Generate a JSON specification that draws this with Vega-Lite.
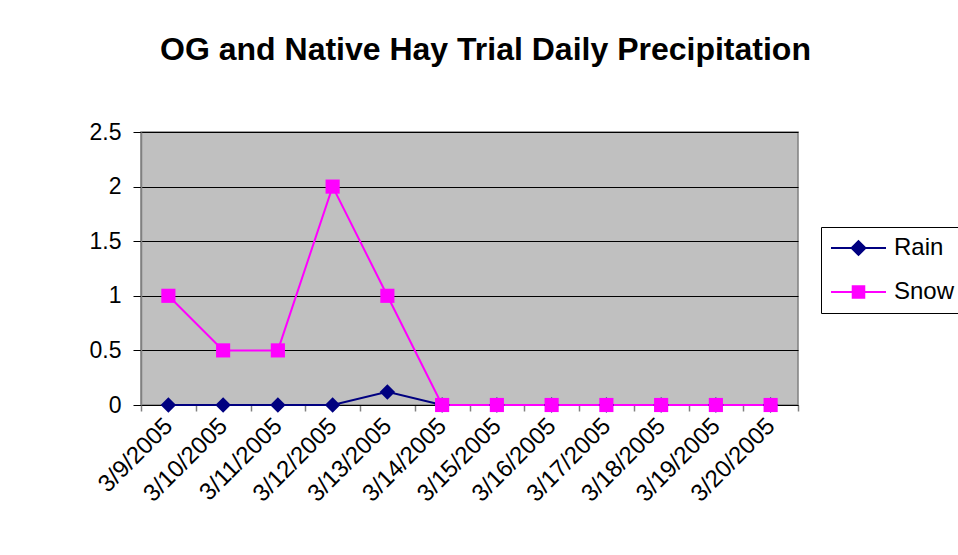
{
  "$schema": "https://vega.github.io/schema/vega-lite/v6.json",
  "width": 657,
  "height": 273,
  "autosize": {"type": "none"},
  "padding": {"left": 141, "top": 132, "right": 160, "bottom": 150},
  "background": "white",
  "title": {
    "text": "OG and Native Hay Trial Daily Precipitation",
    "font": "Liberation Sans",
    "fontSize": 32,
    "fontWeight": "bold",
    "color": "black",
    "anchor": "middle",
    "frame": "group",
    "baseline": "alphabetic",
    "offset": 29,
    "dx": 16
  },
  "config": {
    "view": {"fill": "#C0C0C0", "stroke": "#808080", "strokeWidth": 1.5},
    "font": "Liberation Sans"
  },
  "data": {
    "values": [
      {"date": "3/9/2005", "series": "Rain", "value": 0},
      {"date": "3/10/2005", "series": "Rain", "value": 0},
      {"date": "3/11/2005", "series": "Rain", "value": 0},
      {"date": "3/12/2005", "series": "Rain", "value": 0},
      {"date": "3/13/2005", "series": "Rain", "value": 0.12},
      {"date": "3/14/2005", "series": "Rain", "value": 0},
      {"date": "3/15/2005", "series": "Rain", "value": 0},
      {"date": "3/16/2005", "series": "Rain", "value": 0},
      {"date": "3/17/2005", "series": "Rain", "value": 0},
      {"date": "3/18/2005", "series": "Rain", "value": 0},
      {"date": "3/19/2005", "series": "Rain", "value": 0},
      {"date": "3/20/2005", "series": "Rain", "value": 0},
      {"date": "3/9/2005", "series": "Snow", "value": 1},
      {"date": "3/10/2005", "series": "Snow", "value": 0.5},
      {"date": "3/11/2005", "series": "Snow", "value": 0.5},
      {"date": "3/12/2005", "series": "Snow", "value": 2},
      {"date": "3/13/2005", "series": "Snow", "value": 1},
      {"date": "3/14/2005", "series": "Snow", "value": 0},
      {"date": "3/15/2005", "series": "Snow", "value": 0},
      {"date": "3/16/2005", "series": "Snow", "value": 0},
      {"date": "3/17/2005", "series": "Snow", "value": 0},
      {"date": "3/18/2005", "series": "Snow", "value": 0},
      {"date": "3/19/2005", "series": "Snow", "value": 0},
      {"date": "3/20/2005", "series": "Snow", "value": 0}
    ]
  },
  "encoding": {
    "x": {
      "field": "date",
      "type": "ordinal",
      "sort": null,
      "scale": {"type": "band", "paddingInner": 0, "paddingOuter": 0},
      "axis": {
        "title": null,
        "labelAngle": -45,
        "labelAlign": "right",
        "labelBaseline": "middle",
        "labelFont": "Liberation Sans",
        "labelFontSize": 24,
        "labelColor": "black",
        "labelPadding": 11,
        "tickBand": "extent",
        "tickSize": 6,
        "tickColor": "#808080",
        "tickWidth": 1.5,
        "domainColor": "black",
        "domainWidth": 1,
        "grid": false
      }
    },
    "y": {
      "field": "value",
      "type": "quantitative",
      "scale": {"domain": [0, 2.5], "nice": false, "zero": true},
      "axis": {
        "title": null,
        "values": [0, 0.5, 1, 1.5, 2, 2.5],
        "format": "~g",
        "grid": true,
        "gridColor": "black",
        "gridOpacity": 1,
        "gridWidth": 1,
        "tickSize": 8,
        "tickColor": "black",
        "domainColor": "#808080",
        "domainWidth": 1.5,
        "labelFont": "Liberation Sans",
        "labelFontSize": 23,
        "labelColor": "black",
        "labelPadding": 12
      }
    },
    "color": {
      "field": "series",
      "type": "nominal",
      "scale": {"domain": ["Rain", "Snow"], "range": ["#000080", "#FF00FF"]},
      "legend": {
        "title": null,
        "orient": "none",
        "legendX": 680,
        "legendY": 95,
        "strokeColor": "black",
        "fillColor": "white",
        "padding": 9,
        "labelFont": "Liberation Sans",
        "labelFontSize": 24,
        "labelColor": "black",
        "labelOffset": 7,
        "symbolSize": 3025,
        "clipHeight": 24,
        "rowPadding": 20,
        "symbolStrokeWidth": 2,
        "encode": {
          "symbols": {
            "update": {
              "shape": {"signal": "datum.value === 'Rain' ? 'M-1,0L1,0M0,-0.25L0.25,0L0,0.25L-0.25,0Z' : 'M-1,0L1,0M-0.21,-0.21L0.21,-0.21L0.21,0.21L-0.21,0.21Z'"},
              "fill": {"signal": "datum.value === 'Rain' ? '#000080' : '#FF00FF'"},
              "stroke": {"signal": "datum.value === 'Rain' ? '#000080' : '#FF00FF'"},
              "strokeWidth": {"value": 2},
              "opacity": {"value": 1}
            }
          }
        }
      }
    }
  },
  "layer": [
    {
      "mark": {"type": "line", "strokeWidth": 2}
    },
    {
      "transform": [{"filter": "datum.series === 'Rain'"}],
      "mark": {"type": "point", "shape": "diamond", "filled": true, "opacity": 1, "size": 240}
    },
    {
      "transform": [{"filter": "datum.series === 'Snow'"}],
      "mark": {"type": "point", "shape": "square", "filled": true, "opacity": 1, "size": 200}
    }
  ]
}
